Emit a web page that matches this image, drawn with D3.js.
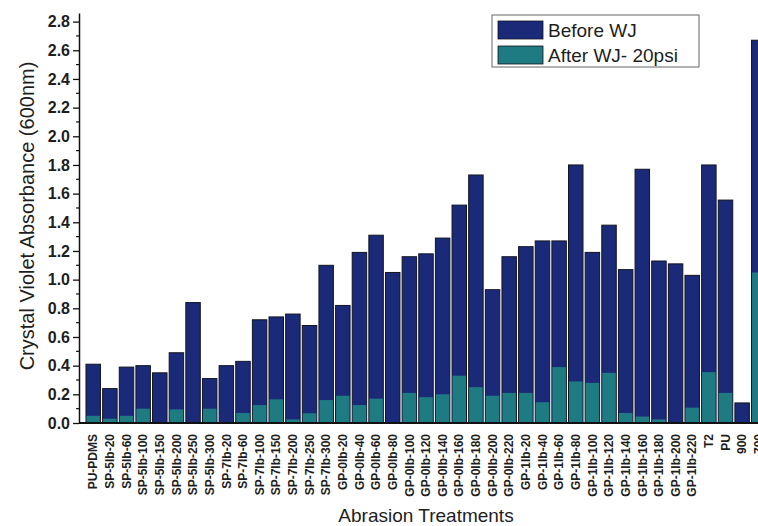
<!DOCTYPE html>
<html>
<head>
<meta charset="utf-8">
<script src="https://cdn.jsdelivr.net/npm/d3@7"></script>
<style>
    body { margin: 0; background: #fff; }
    #chart { width: 758px; height: 526px; overflow: hidden; }
    text { font-family: "Liberation Sans", Arial, sans-serif; fill: #1e1e1e; }
</style>
</head>
<body>
<div id="chart"></div>
<script>
var categories = ["PU-PDMS", "SP-5lb-20", "SP-5lb-60", "SP-5lb-100", "SP-5lb-150", "SP-5lb-200", "SP-5lb-250", "SP-5lb-300",
    "SP-7lb-20", "SP-7lb-60", "SP-7lb-100", "SP-7lb-150", "SP-7lb-200", "SP-7lb-250", "SP-7lb-300",
    "GP-0lb-20", "GP-0lb-40", "GP-0lb-60", "GP-0lb-80", "GP-0lb-100", "GP-0lb-120", "GP-0lb-140", "GP-0lb-160",
    "GP-0lb-180", "GP-0lb-200", "GP-0lb-220",
    "GP-1lb-20", "GP-1lb-40", "GP-1lb-60", "GP-1lb-80", "GP-1lb-100", "GP-1lb-120", "GP-1lb-140", "GP-1lb-160",
    "GP-1lb-180", "GP-1lb-200", "GP-1lb-220", "T2", "PU", "900", "700"];

var beforeWJ = [0.41, 0.24, 0.39, 0.40, 0.35, 0.49, 0.84, 0.31, 0.40, 0.43, 0.72, 0.74, 0.76, 0.68, 1.10,
    0.82, 1.19, 1.31, 1.05, 1.16, 1.18, 1.29, 1.52, 1.73, 0.93, 1.16,
    1.23, 1.27, 1.27, 1.80, 1.19, 1.38, 1.07, 1.77, 1.13, 1.11, 1.03, 1.80, 1.555, 0.14, 2.67];

var afterWJ = [0.05, 0.03, 0.05, 0.10, 0, 0.095, 0, 0.10, 0, 0.07, 0.125, 0.165, 0.025, 0.068, 0.16,
    0.19, 0.125, 0.17, 0, 0.21, 0.18, 0.20, 0.33, 0.25, 0.19, 0.21,
    0.21, 0.145, 0.39, 0.29, 0.28, 0.35, 0.07, 0.045, 0.025, 0, 0.107, 0.355, 0.21, 0, 1.05];

var yTicks = [0, 0.2, 0.4, 0.6, 0.8, 1.0, 1.2, 1.4, 1.6, 1.8, 2.0, 2.2, 2.4, 2.6, 2.8];
var seriesNames = ["Before WJ", "After WJ- 20psi"];
var seriesColors = ["#1b2a78", "#1f7b82"];

function drawAbsorbanceChart(id) {
    var width = 758,
        height = 526;
    var margin = { top: 13, left: 79, bottom: 103 };

    var svg = d3.select(id)
        .append("svg")
        .attr("width", width)
        .attr("height", height);

    var x = d3.scaleBand()
        .domain(categories)
        .range([margin.left, margin.left + 694])
        .paddingInner(0.13)
        .paddingOuter(0.42);

    var y = d3.scaleLinear()
        .domain([0, 2.86])
        .range([height - margin.bottom, margin.top]);

    var rows = categories.map(function (c, i) {
        return { name: c, before: beforeWJ[i], after: afterWJ[i] };
    });

    var bars = svg.append("g").attr("class", "bars");

    bars.selectAll(".bar-before")
        .data(rows)
        .enter()
        .append("rect")
        .attr("class", "bar-before")
        .attr("x", function (d) { return x(d.name); })
        .attr("width", x.bandwidth())
        .attr("y", function (d) { return y(d.before); })
        .attr("height", function (d) { return y(0) - y(d.before); })
        .attr("fill", seriesColors[0])
        .attr("stroke", "#111522")
        .attr("stroke-width", 1);

    bars.selectAll(".bar-after")
        .data(rows.filter(function (d) { return d.after > 0; }))
        .enter()
        .append("rect")
        .attr("class", "bar-after")
        .attr("x", function (d) { return x(d.name) + 0.5; })
        .attr("width", x.bandwidth() - 1)
        .attr("y", function (d) { return y(d.after); })
        .attr("height", function (d) { return y(0) - y(d.after); })
        .attr("fill", seriesColors[1]);

    // y axis, major + minor ticks
    var yAxis = d3.axisLeft(y)
        .tickValues(yTicks)
        .tickFormat(d3.format(".1f"))
        .tickSize(6)
        .tickPadding(3)
        .tickSizeOuter(0);

    var gy = svg.append("g")
        .attr("transform", "translate(" + margin.left + ",0)")
        .call(yAxis);
    gy.select(".domain").attr("stroke", "#111").attr("stroke-width", 1.5);
    gy.selectAll(".tick line").attr("stroke", "#111").attr("stroke-width", 1.3);
    gy.selectAll("text")
        .attr("font-size", "16px")
        .attr("font-weight", "bold")
        .attr("fill", "#2a2a2a");

    var minor = d3.range(1, 29, 2).map(function (k) { return k / 10; });
    svg.append("g")
        .selectAll("line")
        .data(minor)
        .enter()
        .append("line")
        .attr("x1", margin.left - 3)
        .attr("x2", margin.left)
        .attr("y1", function (d) { return y(d); })
        .attr("y2", function (d) { return y(d); })
        .attr("stroke", "#111")
        .attr("stroke-width", 1.2);

    // x axis
    var xAxis = d3.axisBottom(x)
        .tickSize(0)
        .tickPadding(0);

    var gx = svg.append("g")
        .attr("transform", "translate(0," + y(0) + ")")
        .call(xAxis);
    gx.select(".domain")
        .attr("d", "M" + margin.left + ",0H" + width)
        .attr("stroke", "#111")
        .attr("stroke-width", 2);
    gx.selectAll("text")
        .attr("transform", "rotate(-90)")
        .attr("text-anchor", "end")
        .attr("x", -11)
        .attr("y", 0)
        .attr("dy", "0.35em")
        .attr("font-size", "12px")
        .attr("font-weight", "bold")
        .attr("fill", "#2a2a2a");

    // axis titles
    svg.append("text")
        .attr("transform", "translate(34," + 216 + ") rotate(-90)")
        .attr("text-anchor", "middle")
        .attr("font-size", "20px")
        .text("Crystal Violet Absorbance (600nm)");

    svg.append("text")
        .attr("x", 426)
        .attr("y", 522)
        .attr("text-anchor", "middle")
        .attr("font-size", "19px")
        .text("Abrasion Treatments");

    // legend
    var legend = svg.append("g").attr("transform", "translate(492,15)");
    legend.append("rect")
        .attr("width", 207)
        .attr("height", 52)
        .attr("fill", "#fff")
        .attr("stroke", "#666")
        .attr("stroke-width", 1);

    var items = legend.selectAll(".item")
        .data(seriesNames)
        .enter()
        .append("g")
        .attr("class", "item")
        .attr("transform", function (d, i) { return "translate(6," + (6 + i * 25) + ")"; });

    items.append("rect")
        .attr("width", 45)
        .attr("height", 18)
        .attr("fill", function (d, i) { return seriesColors[i]; })
        .attr("stroke", "#111522")
        .attr("stroke-width", 0.8);

    items.append("text")
        .attr("x", 50)
        .attr("y", 16)
        .attr("font-size", "19px")
        .text(function (d) { return d; });
}

drawAbsorbanceChart("#chart");
</script>
</body>
</html>
